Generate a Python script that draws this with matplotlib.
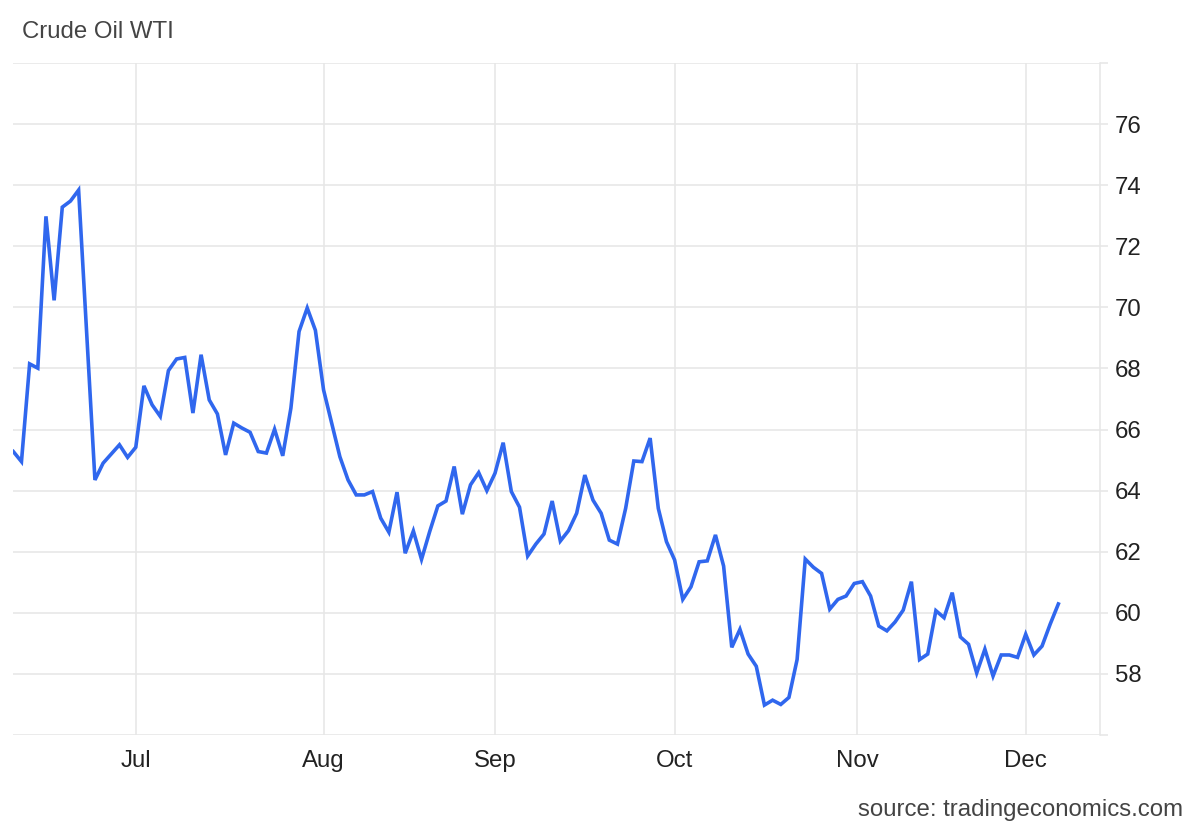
import numpy as np
import pandas as pd
import matplotlib
matplotlib.use('Agg')
import matplotlib.pyplot as plt

# daily WTI closes, one per weekday from Jun 10 to Dec 5
dates = pd.bdate_range('2025-06-10', '2025-12-05')
prices = [
    65.28, 64.95, 68.15, 68.01, 72.98, 70.23, 73.28, 73.48, 73.84, 69.10,
    64.35, 64.90, 65.20, 65.50, 65.09, 65.42, 67.43, 66.81, 66.43, 67.93,
    68.31, 68.36, 66.54, 68.45, 66.97, 66.51, 65.17, 66.21, 66.05, 65.91,
    65.28, 65.23, 66.01, 65.14, 66.70, 69.21, 69.98, 69.25, 67.30, 66.21,
    65.11, 64.35, 63.86, 63.86, 63.97, 63.10, 62.64, 63.95, 61.95, 62.68,
    61.75, 62.66, 63.50, 63.66, 64.79, 63.23, 64.19, 64.59, 64.00, 64.57,
    65.57, 63.97, 63.46, 61.86, 62.25, 62.58, 63.66, 62.35, 62.69, 63.26,
    64.51, 63.69, 63.26, 62.38, 62.25, 63.42, 64.97, 64.95, 65.72, 63.42,
    62.33, 61.73, 60.44, 60.85, 61.67, 61.70, 62.55, 61.53, 58.87, 59.46,
    58.65, 58.25, 56.98, 57.14, 57.00, 57.23, 58.47, 61.76, 61.49, 61.29,
    60.12, 60.44, 60.55, 60.96, 61.02, 60.55, 59.57, 59.41, 59.70, 60.09,
    61.02, 58.47, 58.65, 60.07, 59.84, 60.66, 59.21, 58.97, 58.03, 58.81,
    57.93, 58.62, 58.62, 58.54, 59.30, 58.62, 58.91, 59.63, 60.29,
]
month_starts = pd.to_datetime(['2025-07-01', '2025-08-01', '2025-09-01',
                               '2025-10-01', '2025-11-01', '2025-12-01'])
month_labels = ['Jul', 'Aug', 'Sep', 'Oct', 'Nov', 'Dec']
y_ticks = list(range(56, 79, 2))
y_labels = ['' if v in (56, 78) else str(v) for v in y_ticks]

grid_c = '#e6e6e6'
line_c = '#3067ee'
fs = 17.3

# weekday-ordinal x axis, month ticks interpolated over weekends
idx = np.arange(len(dates))
tick_pos = np.interp(month_starts.values.astype('int64'),
                     dates.values.astype('int64'), idx)

fig = plt.figure(figsize=(12, 8.32), dpi=100)
ax = fig.add_axes([13.3 / 1200, 1 - 735 / 832, (1100 - 13.3) / 1200, (735 - 63) / 832])

ax.plot(idx, prices, color=line_c, linewidth=2.6, solid_joinstyle='miter', zorder=3)

ax.set_xlim(0, 133.1)
ax.set_ylim(56, 78)
ax.set_xticks(tick_pos)
ax.set_xticklabels(month_labels)
ax.set_yticks(y_ticks)
ax.set_yticklabels(y_labels)

ax.grid(True, color=grid_c, linewidth=1.1)
ax.set_axisbelow(True)
for s in ['left', 'top', 'bottom']:
    ax.spines[s].set_visible(False)
ax.spines['right'].set_color(grid_c)
ax.spines['right'].set_linewidth(1.1)

ax.yaxis.tick_right()
ax.tick_params(axis='y', length=5.8, color=grid_c, width=1.1, pad=5,
               labelsize=fs, labelcolor='#222222')
ax.tick_params(axis='x', length=0, pad=11, labelsize=fs, labelcolor='#222222')
for lab in ax.get_xticklabels() + ax.get_yticklabels():
    lab.set_family('Liberation Sans')

fig.text(22 / 1200, 1 - 32 / 832, 'Crude Oil WTI', family='Liberation Sans',
         fontsize=fs, color='#444444', va='center', ha='left')
fig.text(1183 / 1200, 1 - 810 / 832, 'source: tradingeconomics.com',
         family='Liberation Sans', fontsize=fs, color='#444444',
         va='center', ha='right')

fig.savefig('out.png', dpi=100)
